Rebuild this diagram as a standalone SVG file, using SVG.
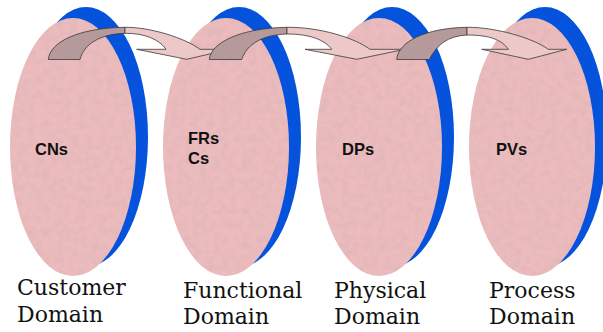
<svg xmlns="http://www.w3.org/2000/svg" width="603" height="332" viewBox="0 0 603 332">
<defs>
<filter id="tex" x="0" y="0" width="100%" height="100%">
<feTurbulence type="fractalNoise" baseFrequency="0.14" numOctaves="3" seed="4" result="n"/>
<feColorMatrix in="n" type="matrix" values="0 0 0 0 0.6  0 0 0 0 0.4  0 0 0 0 0.42  0 0 0 -0.7 0.42" result="c"/>
<feComposite in="c" in2="SourceGraphic" operator="in" result="t"/>
<feMerge><feMergeNode in="SourceGraphic"/><feMergeNode in="t"/></feMerge>
</filter>
</defs>
<style>
.blue{fill:#0552dc}
.pink{fill:#ebbbbd;filter:url(#tex)}
.dark{fill:#b6999b;stroke:#3a3a3a;stroke-width:0.8;stroke-linejoin:round}
.light{fill:#ecc8c8;stroke:#3a3a3a;stroke-width:0.8;stroke-linejoin:round}
.sym{font-family:"Liberation Sans",Arial,sans-serif;font-weight:bold;font-size:16.5px;fill:#111}
.lab{font-family:"DejaVu Serif",serif;font-size:22px;fill:#111}
</style>
<rect width="603" height="332" fill="#ffffff"/>
<g id="customer-domain">
<ellipse class="blue" cx="86" cy="137" rx="62" ry="130"/>
<ellipse class="pink" cx="73" cy="147" rx="63" ry="129"/>
</g>
<g id="functional-domain">
<ellipse class="blue" cx="239" cy="137" rx="62" ry="130"/>
<ellipse class="pink" cx="226" cy="147" rx="63" ry="129"/>
</g>
<g id="physical-domain">
<ellipse class="blue" cx="392" cy="137" rx="62" ry="130"/>
<ellipse class="pink" cx="379" cy="147" rx="63" ry="129"/>
</g>
<g id="process-domain">
<ellipse class="blue" cx="545" cy="137" rx="62" ry="130"/>
<ellipse class="pink" cx="532" cy="147" rx="63" ry="129"/>
</g>
<g id="connectors">
<g id="arrow-1">
<path class="dark" d="M48.3,59.5 C50,42 78,28 125,27.3 L125,33.3 C100,34 84,44 80,59.5 Z"/>
<path class="light" d="M125,27.3 C150,27 185,38 200,49.3 L230,49.3 L186.7,59.3 L136.7,49.3 L166,49.3 C160,40 145,33 125,33.3 Z"/>
</g>
<g id="arrow-2">
<path class="dark" d="M209.3,59.5 C211,42 242,28 287,27.3 L287,34 C262,35 247,44 241.7,59.5 Z"/>
<path class="light" d="M287,27.3 C320,27 355,38 370,49.3 L405,49.3 L356.7,59.3 L305,49.3 L331.7,49.3 C325,40 310,34 287,34 Z"/>
</g>
<g id="arrow-3">
<path class="dark" d="M396.7,59.5 C398,42 425,28 467,27.3 L467,35 C447,36 437,45 429.3,59.5 Z"/>
<path class="light" d="M467,27.3 C495,27 533,38 548.3,49.3 L566.7,49.3 L528.3,59.3 L481.7,49.3 L508.3,49.3 C502,40 490,35 467,35 Z"/>
</g>
</g>
<g id="symbols">
<text class="sym" x="35" y="155">CNs</text>
<text class="sym" x="188" y="144">FRs</text>
<text class="sym" x="188" y="164">Cs</text>
<text class="sym" x="342" y="155">DPs</text>
<text class="sym" x="496" y="155">PVs</text>
</g>
<g id="labels">
<text class="lab" x="17" y="295">Customer</text>
<text class="lab" x="17" y="322">Domain</text>
<text class="lab" x="183" y="298">Functional</text>
<text class="lab" x="183" y="324">Domain</text>
<text class="lab" x="334" y="298">Physical</text>
<text class="lab" x="334" y="324">Domain</text>
<text class="lab" x="489" y="298">Process</text>
<text class="lab" x="489" y="324">Domain</text>
</g>
</svg>
